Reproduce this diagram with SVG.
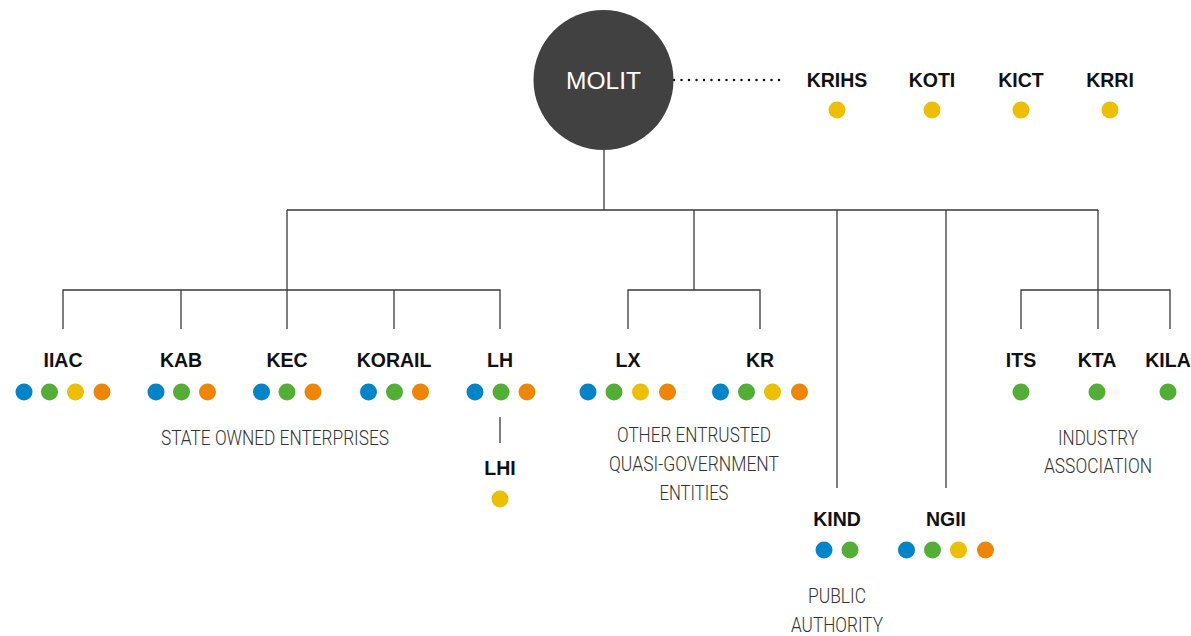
<svg xmlns="http://www.w3.org/2000/svg" width="1191" height="636" viewBox="0 0 1191 636">
<style>
.lbl{font-family:"Liberation Sans",Arial,sans-serif;font-weight:bold;font-size:19.5px;fill:#111;text-anchor:middle}
.cat{font-family:Roboto,"Liberation Sans",sans-serif;font-weight:300;font-size:19.5px;fill:#333;text-anchor:middle}
.b{fill:#0284c9}.g{fill:#52ae35}.y{fill:#ecbf00}.o{fill:#ef8506}
.ln{fill:none;stroke:#3a3a3a;stroke-width:1.3}
</style>
<rect width="1191" height="636" fill="#fff"/>
<g id="connectors" class="ln">
<path d="M604,150V210M287,210H1098"/>
<path d="M287,210V329M63,329V290H500V329M181,290V329M394,290V329"/>
<path d="M694,210V290M628,329V290H760V329"/>
<path d="M837,210V488M946,210V488"/>
<path d="M1098,210V329M1021,329V290H1170V329"/>
<path d="M500,417V443"/>
<line x1="674" y1="80" x2="786" y2="80" stroke="#111" stroke-width="2.5" stroke-linecap="round" stroke-dasharray="0 7.5"/>
</g>
<g id="MOLIT">
<circle cx="603.5" cy="80" r="70" fill="#414141"/>
<text x="603.5" y="89" font-family="Liberation Sans,Arial,sans-serif" font-size="24.5" fill="#fff" text-anchor="middle">MOLIT</text>
</g>
<g id="KRIHS"><text class="lbl" x="837" y="87">KRIHS</text><circle class="y" cx="837" cy="110" r="8.5"/></g>
<g id="KOTI"><text class="lbl" x="932" y="87">KOTI</text><circle class="y" cx="932" cy="110" r="8.5"/></g>
<g id="KICT"><text class="lbl" x="1021" y="87">KICT</text><circle class="y" cx="1021" cy="110" r="8.5"/></g>
<g id="KRRI"><text class="lbl" x="1110" y="87">KRRI</text><circle class="y" cx="1110" cy="110" r="8.5"/></g>

<g id="IIAC"><text class="lbl" x="63" y="367">IIAC</text>
<circle class="b" cx="24" cy="392" r="8.5"/><circle class="g" cx="49.5" cy="392" r="8.5"/><circle class="y" cx="75.5" cy="392" r="8.5"/><circle class="o" cx="102" cy="392" r="8.5"/></g>
<g id="KAB"><text class="lbl" x="181" y="367">KAB</text>
<circle class="b" cx="156" cy="392" r="8.5"/><circle class="g" cx="181.5" cy="392" r="8.5"/><circle class="o" cx="207.5" cy="392" r="8.5"/></g>
<g id="KEC"><text class="lbl" x="287" y="367">KEC</text>
<circle class="b" cx="261.5" cy="392" r="8.5"/><circle class="g" cx="287" cy="392" r="8.5"/><circle class="o" cx="313" cy="392" r="8.5"/></g>
<g id="KORAIL"><text class="lbl" x="394" y="367">KORAIL</text>
<circle class="b" cx="368.5" cy="392" r="8.5"/><circle class="g" cx="394.5" cy="392" r="8.5"/><circle class="o" cx="420.5" cy="392" r="8.5"/></g>
<g id="LH"><text class="lbl" x="500" y="367">LH</text>
<circle class="b" cx="475" cy="392" r="8.5"/><circle class="g" cx="501" cy="392" r="8.5"/><circle class="o" cx="527" cy="392" r="8.5"/></g>
<g id="LHI"><text class="lbl" x="500" y="475">LHI</text><circle class="y" cx="500" cy="499" r="8.5"/></g>
<text class="cat" x="275" y="445" textLength="228" lengthAdjust="spacingAndGlyphs">STATE OWNED ENTERPRISES</text>

<g id="LX"><text class="lbl" x="628" y="367">LX</text>
<circle class="b" cx="588" cy="392" r="8.5"/><circle class="g" cx="614" cy="392" r="8.5"/><circle class="y" cx="640.5" cy="392" r="8.5"/><circle class="o" cx="667.5" cy="392" r="8.5"/></g>
<g id="KR"><text class="lbl" x="760" y="367">KR</text>
<circle class="b" cx="720.5" cy="392" r="8.5"/><circle class="g" cx="746.5" cy="392" r="8.5"/><circle class="y" cx="772.5" cy="392" r="8.5"/><circle class="o" cx="799.5" cy="392" r="8.5"/></g>
<text class="cat" x="694" y="442" textLength="154" lengthAdjust="spacingAndGlyphs">OTHER ENTRUSTED</text>
<text class="cat" x="694" y="471" textLength="170" lengthAdjust="spacingAndGlyphs">QUASI-GOVERNMENT</text>
<text class="cat" x="694" y="500" textLength="69" lengthAdjust="spacingAndGlyphs">ENTITIES</text>

<g id="KIND"><text class="lbl" x="837" y="526">KIND</text>
<circle class="b" cx="824" cy="550" r="8.5"/><circle class="g" cx="850" cy="550" r="8.5"/></g>
<g id="NGII"><text class="lbl" x="946" y="526">NGII</text>
<circle class="b" cx="906.5" cy="550" r="8.5"/><circle class="g" cx="932.5" cy="550" r="8.5"/><circle class="y" cx="958.5" cy="550" r="8.5"/><circle class="o" cx="985.5" cy="550" r="8.5"/></g>
<text class="cat" x="837" y="603" textLength="58" lengthAdjust="spacingAndGlyphs">PUBLIC</text>
<text class="cat" x="837" y="632" textLength="92" lengthAdjust="spacingAndGlyphs">AUTHORITY</text>

<g id="ITS"><text class="lbl" x="1021" y="367">ITS</text><circle class="g" cx="1021" cy="392" r="8.5"/></g>
<g id="KTA"><text class="lbl" x="1097" y="367">KTA</text><circle class="g" cx="1097" cy="392" r="8.5"/></g>
<g id="KILA"><text class="lbl" x="1168" y="367">KILA</text><circle class="g" cx="1168" cy="392" r="8.5"/></g>
<text class="cat" x="1098" y="445" textLength="80" lengthAdjust="spacingAndGlyphs">INDUSTRY</text>
<text class="cat" x="1098" y="473" textLength="108" lengthAdjust="spacingAndGlyphs">ASSOCIATION</text>
</svg>
